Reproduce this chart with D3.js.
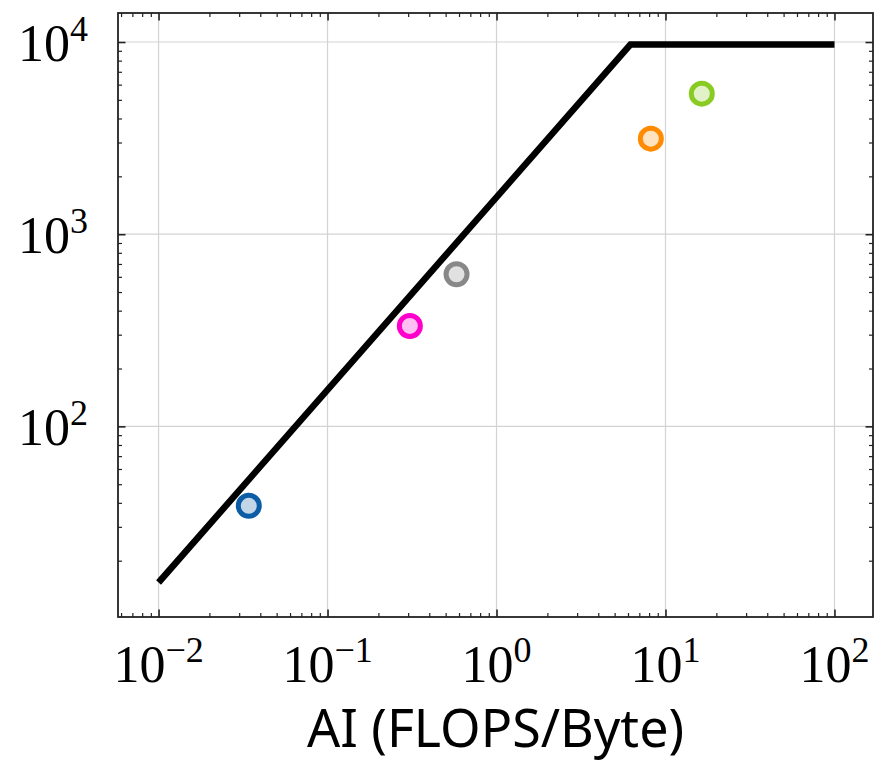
<!DOCTYPE html>
<html>
<head>
<meta charset="utf-8">
<script src="https://cdn.jsdelivr.net/npm/d3@7"></script>
<style>
  body { margin: 0; background: #fff; }
  svg { display: block; }
</style>
</head>
<body>
<div id="chart"></div>
<script>
// roofline
var roofAI = [0.01, 6.2, 100];
var roofPerf = [15.4, 9700, 9700];

// measured kernels
var pointAI = [0.0342, 0.307, 0.58, 8.19, 16.4];
var pointPerf = [38.6, 333, 619, 3142, 5388];
var pointColors = ["#0C5DA5", "#FF00CC", "#888888", "#FF8C00", "#8ACB23"];

// major tick exponents
var xExponents = [-2, -1, 0, 1, 2];
var yExponents = [2, 3, 4];

var svgWidth = 875;
var svgHeight = 763;

var margin = { top: 13, right: 2, bottom: 146, left: 118 };
var chartWidth = svgWidth - margin.left - margin.right;
var chartHeight = svgHeight - margin.top - margin.bottom;

var svg = d3.select("#chart")
  .append("svg")
  .attr("width", svgWidth)
  .attr("height", svgHeight);

var chartGroup = svg.append("g")
  .attr("transform", `translate(${margin.left}, ${margin.top})`);

var xScale = d3.scaleLog()
  .domain([Math.pow(10, -2.24), Math.pow(10, 2.228)])
  .range([0, chartWidth]);

var yScale = d3.scaleLog()
  .domain([Math.pow(10, 1.008), Math.pow(10, 4.151)])
  .range([chartHeight, 0]);

// minor tick values inside the domain
function minorTicks(scale) {
  var d = scale.domain();
  var out = [];
  for (var e = Math.floor(Math.log10(d[0])); e <= Math.ceil(Math.log10(d[1])); e++) {
    for (var m = 2; m <= 9; m++) {
      var v = m * Math.pow(10, e);
      if (v >= d[0] && v <= d[1]) out.push(v);
    }
  }
  return out;
}

var xMajor = xExponents.map(e => Math.pow(10, e));
var yMajor = yExponents.map(e => Math.pow(10, e));

// grid
chartGroup.append("g")
  .selectAll("line")
  .data(xMajor)
  .enter()
  .append("line")
  .attr("x1", d => xScale(d))
  .attr("x2", d => xScale(d))
  .attr("y1", 0)
  .attr("y2", chartHeight)
  .attr("stroke", "#d3d3d3")
  .attr("stroke-width", 1.2);

chartGroup.append("g")
  .selectAll("line")
  .data(yMajor)
  .enter()
  .append("line")
  .attr("x1", 0)
  .attr("x2", chartWidth)
  .attr("y1", d => yScale(d))
  .attr("y2", d => yScale(d))
  .attr("stroke", "#d3d3d3")
  .attr("stroke-width", 1.2);

// axes with inward ticks on all four sides
function styleAxis(g, width) {
  g.select(".domain").remove();
  g.selectAll("line").attr("stroke", "#222").attr("stroke-width", width);
  g.selectAll("text").remove();
}

var xMinor = minorTicks(xScale);
var yMinor = minorTicks(yScale);

chartGroup.append("g")
  .attr("transform", `translate(0, ${chartHeight})`)
  .call(d3.axisBottom(xScale).tickValues(xMajor).tickSize(-7.5))
  .call(g => styleAxis(g, 1.6));
chartGroup.append("g")
  .attr("transform", `translate(0, ${chartHeight})`)
  .call(d3.axisBottom(xScale).tickValues(xMinor).tickSize(-4))
  .call(g => styleAxis(g, 1.2));
chartGroup.append("g")
  .call(d3.axisTop(xScale).tickValues(xMajor).tickSize(-7.5))
  .call(g => styleAxis(g, 1.6));
chartGroup.append("g")
  .call(d3.axisTop(xScale).tickValues(xMinor).tickSize(-4))
  .call(g => styleAxis(g, 1.2));

chartGroup.append("g")
  .call(d3.axisLeft(yScale).tickValues(yMajor).tickSize(-7.5))
  .call(g => styleAxis(g, 1.6));
chartGroup.append("g")
  .call(d3.axisLeft(yScale).tickValues(yMinor).tickSize(-4))
  .call(g => styleAxis(g, 1.2));
chartGroup.append("g")
  .attr("transform", `translate(${chartWidth}, 0)`)
  .call(d3.axisRight(yScale).tickValues(yMajor).tickSize(-7.5))
  .call(g => styleAxis(g, 1.6));
chartGroup.append("g")
  .attr("transform", `translate(${chartWidth}, 0)`)
  .call(d3.axisRight(yScale).tickValues(yMinor).tickSize(-4))
  .call(g => styleAxis(g, 1.2));

// frame
chartGroup.append("rect")
  .attr("x", 0)
  .attr("y", 0)
  .attr("width", chartWidth)
  .attr("height", chartHeight)
  .attr("fill", "none")
  .attr("stroke", "#222")
  .attr("stroke-width", 1.8);

// tick labels as 10^n
function powerLabel(sel, exp) {
  sel.append("tspan").text("10");
  sel.append("tspan")
    .attr("dy", -20)
    .attr("font-size", 36)
    .text(String(exp).replace("-", "\u2212"));
}

chartGroup.append("g")
  .selectAll("text")
  .data(xExponents)
  .enter()
  .append("text")
  .attr("x", d => xScale(Math.pow(10, d)))
  .attr("y", chartHeight + 65)
  .attr("text-anchor", "middle")
  .attr("font-family", "'Liberation Serif', serif")
  .attr("font-size", 52)
  .attr("fill", "#000")
  .each(function(d) { powerLabel(d3.select(this), d); });

chartGroup.append("g")
  .selectAll("text")
  .data(yExponents)
  .enter()
  .append("text")
  .attr("x", -30)
  .attr("y", d => yScale(Math.pow(10, d)) + 19)
  .attr("text-anchor", "end")
  .attr("font-family", "'Liberation Serif', serif")
  .attr("font-size", 52)
  .attr("fill", "#000")
  .each(function(d) { powerLabel(d3.select(this), d); });

// x axis title
svg.append("text")
  .attr("x", margin.left + chartWidth / 2)
  .attr("y", 747)
  .attr("text-anchor", "middle")
  .attr("font-family", "'Noto Sans', sans-serif")
  .attr("font-size", 52)
  .attr("fill", "#000")
  .text("AI (FLOPS/Byte)");

// roofline
var roofData = roofAI.map((x, i) => ({ x: x, y: roofPerf[i] }));
var line = d3.line()
  .x(d => xScale(d.x))
  .y(d => yScale(d.y));

chartGroup.append("path")
  .datum(roofData)
  .attr("d", line)
  .attr("fill", "none")
  .attr("stroke", "#000")
  .attr("stroke-width", 6.5);

// points
var pointData = pointAI.map((x, i) => ({ x: x, y: pointPerf[i], c: pointColors[i] }));

chartGroup.selectAll("circle.kernel")
  .data(pointData)
  .enter()
  .append("circle")
  .attr("class", "kernel")
  .attr("cx", d => xScale(d.x))
  .attr("cy", d => yScale(d.y))
  .attr("r", 10.5)
  .attr("fill", d => { var c = d3.color(d.c); c.opacity = 0.25; return c.formatRgb(); })
  .attr("stroke", d => d.c)
  .attr("stroke-width", 5);
</script>
</body>
</html>
